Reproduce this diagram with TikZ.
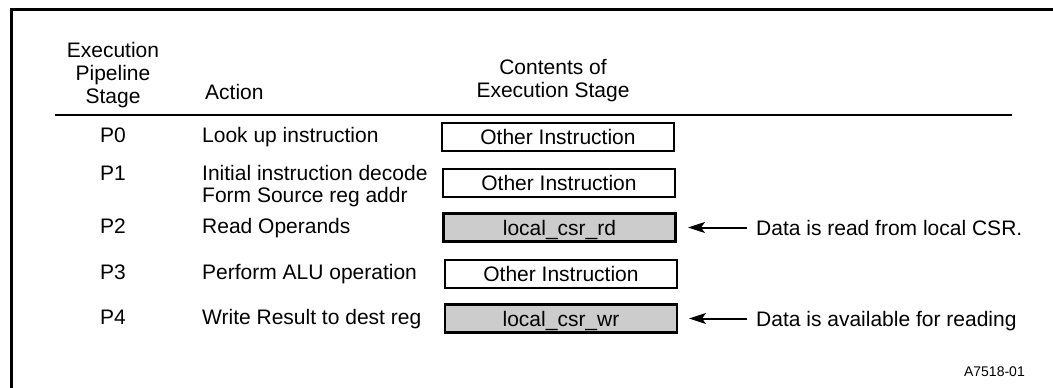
\documentclass[tikz,border=0pt]{standalone}
\usepackage{fontspec}
\setmainfont{Liberation Sans}
\usetikzlibrary{arrows.meta}
\definecolor{stagegray}{RGB}{204,204,204}
\tikzset{
  lbl/.style={font=\fontsize{21}{23}\selectfont, inner sep=0pt},
  stagebox/.style={draw=black, line width=2.4pt, minimum width=232pt, minimum height=28pt,
    inner sep=0pt, font=\fontsize{21}{23}\selectfont, text height=15.1pt, text depth=0pt},
  busy/.style={stagebox, fill=stagegray},
  idle/.style={stagebox, fill=white},
  note/.style={line width=2pt, -{Stealth[length=17pt,width=11pt,inset=4pt]}},
  frameline/.style={line width=3pt},
  rule/.style={line width=2.5pt}
}
\begin{document}
\begin{tikzpicture}[x=1pt,y=-1pt]
\useasboundingbox (0,0) rectangle (1053,388);

% frame
\coordinate (fb) at (11,390);
\coordinate (fc) at (11,9);
\coordinate (fr) at (1055,9);
\draw[frameline] (fb) -- (fc) -- (fr);

% column headings
\node[lbl, anchor=base] (h1a) at (113,57) {Execution};
\node[lbl, anchor=base] (h1b) at (113,80) {Pipeline};
\node[lbl, anchor=base] (h1c) at (113,103) {Stage};
\node[lbl, anchor=base west] (h2) at (205,99) {Action};
\node[lbl, anchor=base] (h3a) at (553,74) {Contents of};
\node[lbl, anchor=base] (h3b) at (553,97) {Execution Stage};

% heading rule
\coordinate (rl) at (55,115);
\coordinate (rr) at (1012,115);
\draw[rule] (rl) -- (rr);

% stage P0
\node[lbl, anchor=base] (p0) at (113,142.5) {P0};
\node[lbl, anchor=base west] (a0) at (202,142.5) {Look up instruction};
\node[idle] (b0) at (558,137) {Other Instruction};

% stage P1
\node[lbl, anchor=base] (p1) at (113,180) {P1};
\node[lbl, anchor=base west] (a1) at (202,180) {Initial instruction decode};
\node[lbl, anchor=base west] (a1b) at (202,202.5) {Form Source reg addr};
\node[idle] (b1) at (559,183) {Other Instruction};

% stage P2
\node[lbl, anchor=base] (p2) at (113,233) {P2};
\node[lbl, anchor=base west] (a2) at (202,233) {Read Operands};
\node[busy] (b2) at (559.5,227.5) {local\_csr\_rd};

% stage P3
\node[lbl, anchor=base] (p3) at (113,279.5) {P3};
\node[lbl, anchor=base west] (a3) at (202,279.5) {Perform ALU operation};
\node[idle] (b3) at (561,274) {Other Instruction};

% stage P4
\node[lbl, anchor=base] (p4) at (113,324) {P4};
\node[lbl, anchor=base west] (a4) at (202,324) {Write Result to dest reg};
\node[busy] (b4) at (561,318.5) {local\_csr\_wr};

% notes with arrows
\node[lbl, anchor=base west] (n2) at (756,235) {Data is read from local CSR.};
\node[lbl, anchor=base west] (n4) at (756,326) {Data is available for reading};
\coordinate (t2) at (688,227.5);
\coordinate (t4) at (689,318.5);
\draw[note] (n2.west |- t2) ++(-9,0) -- (t2);
\draw[note] (n4.west |- t4) ++(-9,0) -- (t4);

% figure number
\node[font=\fontsize{14}{16}\selectfont, inner sep=0pt, anchor=base east] (fig) at (1025,376) {A7518-01};
\end{tikzpicture}
\end{document}
